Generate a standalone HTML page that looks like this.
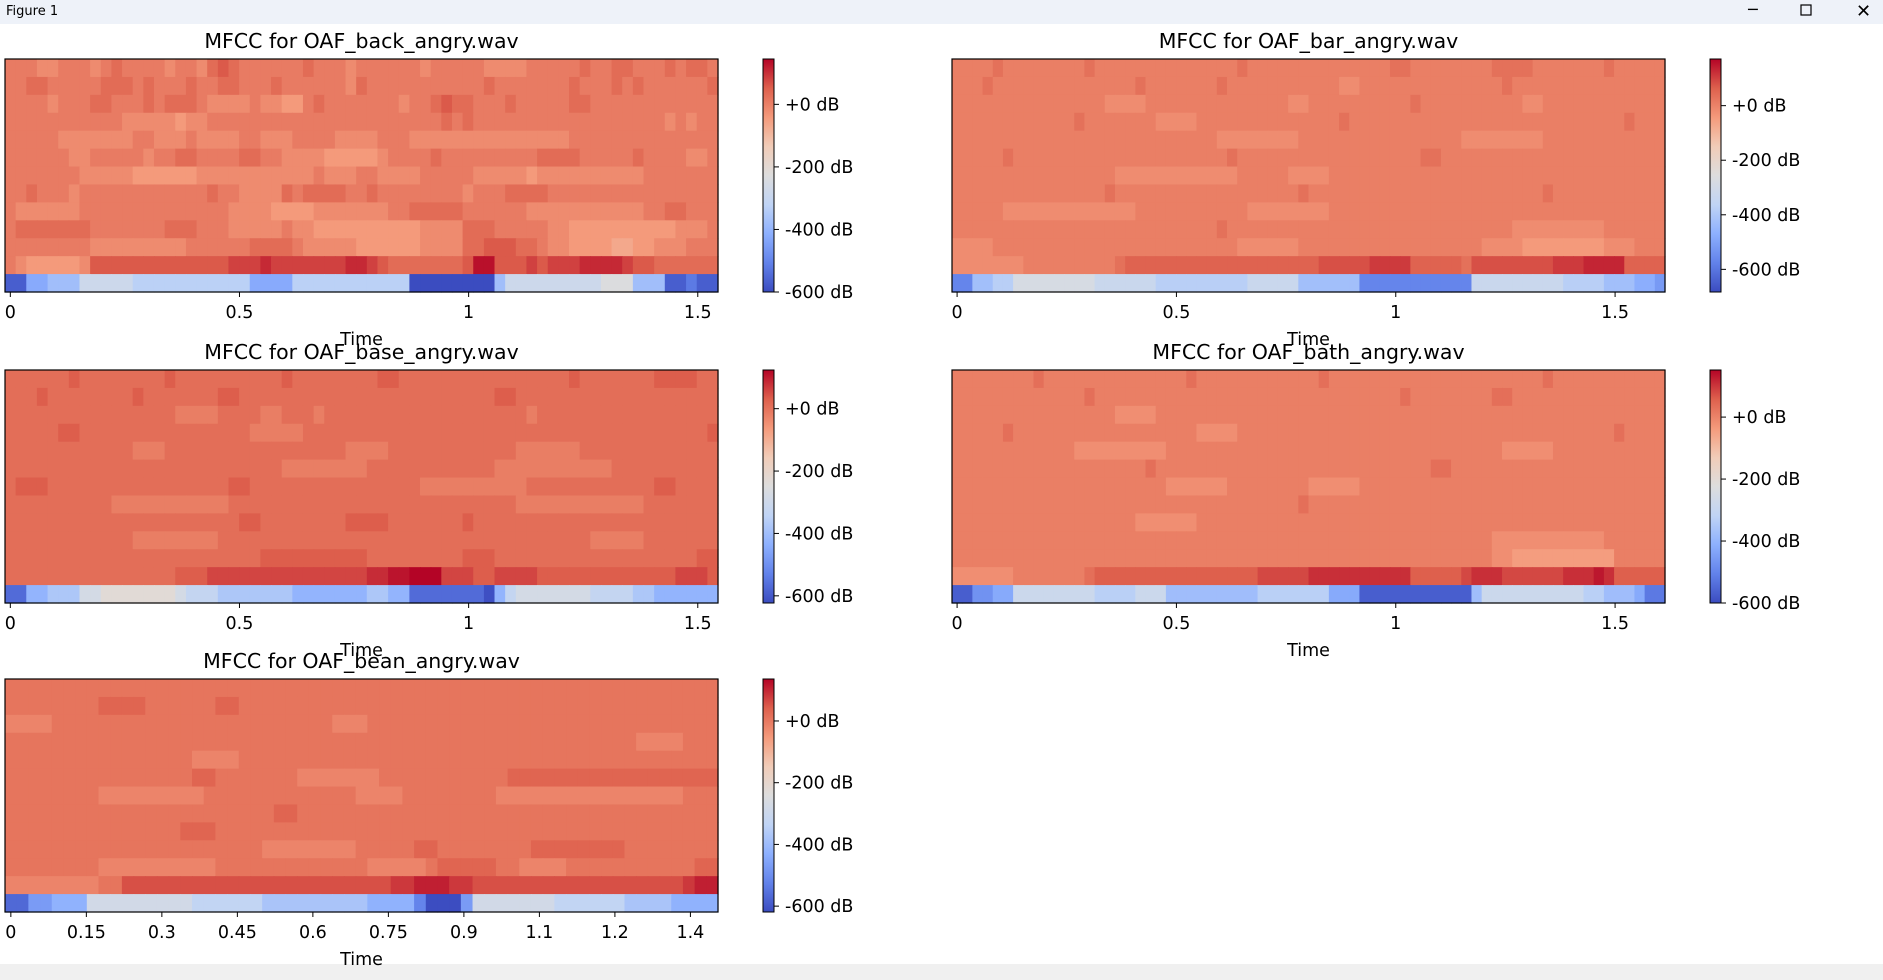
<!DOCTYPE html>
<html><head><meta charset="utf-8"><style>
html,body{margin:0;padding:0;background:#fff;width:1883px;height:980px;overflow:hidden;font-family:"DejaVu Sans","Liberation Sans",sans-serif}
</style></head><body>
<svg id="fig" width="1883" height="980" xmlns="http://www.w3.org/2000/svg">
<defs><linearGradient id="cw" x1="0" y1="1" x2="0" y2="0">
<stop offset="0" stop-color="rgb(59,76,192)"/><stop offset="0.125" stop-color="rgb(98,130,234)"/><stop offset="0.25" stop-color="rgb(141,176,254)"/><stop offset="0.375" stop-color="rgb(192,212,245)"/><stop offset="0.5" stop-color="rgb(221,221,221)"/><stop offset="0.625" stop-color="rgb(241,204,184)"/><stop offset="0.75" stop-color="rgb(244,154,123)"/><stop offset="0.875" stop-color="rgb(222,96,77)"/><stop offset="1" stop-color="rgb(180,4,38)"/>
</linearGradient></defs>
<rect x="0" y="0" width="1883" height="24" fill="#eef2f9"/>
<text x="6" y="15" font-size="13" fill="#000">Figure 1</text>
<text x="1748" y="15" font-size="16">─</text>
<rect x="1801" y="5" width="10" height="10" fill="none" stroke="#000" stroke-width="1.2"/>
<text x="1856" y="17" font-size="18">✕</text>
<rect x="0" y="964" width="1883" height="16" fill="#f0f0f0"/>
<g id="plots"></g>
</svg>
<script>
// ---- data (rows listed top coefficient first, bottom = coefficient 0); digits = levels ----
const backRows = [
"4443344434 5444434435 6544444454 4434444443 4444433334 4444544554 4454554",
"4455444445 5545444544 5544454444 4435444444 4444454444 4445444545 4444445",
"4444344455 4445455543 3334332245 4444444344 5655444544 4445544444 4444444",
"4444444444 4333332334 4444444444 4444444444 4545444444 4444444444 4434344",
"4444433333 3344333433 3344333444 4333344433 3333333333 3334444444 4444444",
"4444443344 4443445544 4455443333 2222234444 5444444444 5555444445 4444334",
"4444444333 3322222233 3333333334 3334433334 4444333332 3333333333 4444444",
"4454443444 4444444445 4433335455 5544544444 4443444555 5444444444 4444444",
"4333333444 4444444444 4333322223 3333334455 5554444443 3333333333 4455444",
"4555555544 4444455544 4333334332 2222222223 3335554444 4332222222 2223334",
"4444444433 3333333444 4445555433 3332222223 3335566655 4332222112 2333444",
"4322222366 6666666666 6777877777 7788765555 5556996667 6777888876 6555555",
"2255666888 8877777777 7775555777 7777777711 1111116888 8888889996 6622322"];
const barRows = [
"4444544444 4445444444 4444444454 4444444444 4445544444 4445555444 4444544444",
"4445444444 4444444454 4444445444 4444444433 4444444444 4444544444 4444444444",
"4444444444 4444433334 4444444444 4443344444 4444454444 4444443344 4444444444",
"4444444444 4454444444 3333444444 4444444454 4444444444 4444444444 4444445444",
"4444444444 4444444444 4444443333 3333444444 4444444444 3333333344 4444444444",
"4444454444 4444444444 4444444544 4444444444 4444445544 4444444444 4444444444",
"4444444444 4444443333 3333333344 4443333444 4444444444 4444444444 4444444444",
"4444444444 4444454444 4444444444 4444544444 4444444444 4444444454 4444444444",
"4444433333 3333333344 4444444443 3333333444 4444444444 4444444444 4444444444",
"4444444444 4444444444 4444445444 4444444444 4444444444 4444433333 3333444444",
"3333444444 4444444444 4444444433 3333444444 4444444444 4433332222 2222333444",
"3333333444 4444445666 6666666666 6666667777 7888866666 5777777778 8899996666",
"2255668888 8888777777 6666666667 7777555555 2222222222 2777777777 6666555443"];
const baseRows = [
"4444445444 4444454444 4444445444 4444455444 4444444444 4445444444 4555544",
"4445444444 4454444444 5544444444 4444444444 4444445544 4444444444 4444444",
"4444444444 4444443333 4444334443 4444444444 4444444443 4444444444 4444444",
"4444455444 4444444444 4443333344 4444444444 4444444444 4444444444 4444445",
"4444444444 4433344444 4444444444 4433334444 4444444433 3333444444 4444444",
"4444444444 4444444444 4444443333 3333444444 4444443333 3333333444 4444444",
"4555444444 4444444444 4554444444 4444444443 3333333334 4444444444 4554444",
"4444444444 3333333333 3444444444 4444444444 4444444433 3333333333 4444444",
"4444444444 4444444444 4455444444 4455554444 4445444444 4444444444 4444444",
"4444444444 4433333333 4444444444 4444444444 4444444444 4444433333 4444444",
"4444444444 4444444444 4444555555 5555444444 4445554444 4444444444 4444455",
"4444444444 4444445556 6666666666 6666778899 9666556666 5555555555 5556665",
"2255666889 9999998777 6666666555 5555665522 2222215788 8888877776 6555555"];
const bathRows = [
"4444444454 4444444444 4445444444 4444445444 4444444444 4444444454 4444444444",
"4444444444 4445444444 4444444444 4444444444 4444544444 4445544444 4444444444",
"4444444444 4444443333 4444444444 4444444444 4444444444 4444444444 4444444444",
"4444454444 4444444444 4444333344 4444444444 4444444444 4444444444 4444454444",
"4444444444 4433333333 3444444444 4444444444 4444444444 4444333334 4444444444",
"4444444444 4444444445 4444444444 4444444444 4444444554 4444444444 4444444444",
"4444444444 4444444444 4333333444 4444433333 4444444444 4444444444 4444444444",
"4444444444 4444444444 4444444444 4444544444 4444444444 4444444444 4444444444",
"4444444444 4444444433 3333444444 4444444444 4444444444 4444444444 4444444444",
"4444444444 4444444444 4444444444 4444444444 4444444444 4443333333 3333444444",
"4444444444 4444444444 4444444444 4444444444 4444444444 4443322222 2222244444",
"3333334444 4445666666 6666666666 7777788888 8888866666 7888777777 8889866666",
"2244558888 8888777788 8666666666 7777777555 2222222222 2688888888 8877666533"];
const beanRows = [
"4444444444 4444444444 4444444444 4444444444 4444444444 4444444444 4",
"4444444455 5544444455 4444444444 4444444444 4444444444 4444444444 4",
"3333444444 4444444444 4444444433 3444444444 4444444444 4444444444 4",
"4444444444 4444444444 4444444444 4444444444 4444444444 4444333344 4",
"4444444444 4444443333 4444444444 4444444444 4444444444 4444444444 4",
"4444444444 4444445544 4444433333 3344444444 4445555555 5555555555 5",
"4444444433 3333333444 4444444444 3333444444 4433333333 3333333344 4",
"4444444444 4444444444 4445544444 4444444444 4444444444 4444444444 4",
"4444444444 4444455544 4444444444 4444444444 4444444444 4444444444 4",
"4444444444 4444444444 4433333333 4444455444 4444455555 5554444444 4",
"4444444433 3333333344 4444444444 4333334555 5544333344 4444444445 5",
"3333333344 6666666666 6666666666 6667788877 6666666666 6666666678 8",
"2244555888 8888887777 7766666666 6555531114 8888888777 7776666555 5"];
const titles = ["MFCC for OAF_back_angry.wav","MFCC for OAF_bar_angry.wav","MFCC for OAF_base_angry.wav","MFCC for OAF_bath_angry.wav","MFCC for OAF_bean_angry.wav"];
const ticksStd = [0,0.5,1,1.5];
const tickLabelsStd = ["0","0.5","1","1.5"];
const ticksBean = [0,0.15,0.3,0.45,0.6,0.75,0.9,1.05,1.2,1.35];
const tickLabelsBean = ["0","0.15","0.3","0.45","0.6","0.75","0.9","1.1","1.2","1.4"];
const cbTicks = [0,-200,-400,-600];
const cbLabels = ["+0 dB","-200 dB","-400 dB","-600 dB"];
const vmins = [-600,-683,-623,-600,-619];
const vmaxs = [145,171,124,152,136];

const NS="http://www.w3.org/2000/svg";
const stops=[[0,59,76,192],[.125,98,130,234],[.25,141,176,254],[.375,192,212,245],[.5,221,221,221],[.625,241,204,184],[.75,244,154,123],[.875,222,96,77],[1,180,4,38]];
function cw(f){f=Math.max(0,Math.min(1,f));for(let i=1;i<stops.length;i++){if(f<=stops[i][0]){const a=stops[i-1],b=stops[i];const t=(f-a[0])/(b[0]-a[0]);return `rgb(${Math.round(a[1]+t*(b[1]-a[1]))},${Math.round(a[2]+t*(b[2]-a[2]))},${Math.round(a[3]+t*(b[3]-a[3]))})`;}}return "rgb(180,4,38)";}
function mk(tag,attrs,parent){const e=document.createElementNS(NS,tag);for(const k in attrs)e.setAttribute(k,attrs[k]);parent.appendChild(e);return e;}
const root=document.getElementById('plots');
const dt=512/22050;
const layouts=[{x:5,y:59,cb:763},{x:952,y:59,cb:1710},{x:5,y:370,cb:763},{x:952,y:370,cb:1710},{x:5,y:679,cb:763}];
const allRows=[backRows,barRows,baseRows,bathRows,beanRows];
const W=713,H=233;
allRows.forEach((rowsRaw,p)=>{
  const L=layouts[p];
  const rows=rowsRaw.map(s=>s.replace(/ /g,''));
  const N=rows[0].length, nr=rows.length;
  const vmin=vmins[p], vmax=vmaxs[p];
  const g=mk('g',{},root);
  
  
  const xs=t=>L.x+(t+dt/2)/(N*dt)*W;
  const ch=H/nr;
  rows.forEach((r,ri)=>{
    const coef=nr-1-ri;
    for(let i=0;i<N;i++){
      const d=+r[i];
      const db= coef===0 ? -665+d*48 : -92+d*25;
      const x0=xs((i-0.5)*dt), x1=xs((i+0.5)*dt);
      const c=mk('rect',{x:x0.toFixed(2),y:(L.y+ri*ch).toFixed(2),width:(x1-x0+0.6).toFixed(2),height:(ch+0.6).toFixed(2),fill:cw((db-vmin)/(vmax-vmin))},g);
      
      
    }
  });
  const fr=mk('rect',{x:L.x,y:L.y,width:W,height:H,fill:'none',stroke:'#000','stroke-width':1.2},g);
  
  
  const tt=mk('text',{x:L.x+W/2,y:L.y-11,'font-size':20.5,'text-anchor':'middle'},g);tt.textContent=titles[p];
  
  
  const tk=p===4?ticksBean:ticksStd, tl=p===4?tickLabelsBean:tickLabelsStd;
  tk.forEach((t,i)=>{
    const x=xs(t);
    mk('line',{x1:x,x2:x,y1:L.y+H,y2:L.y+H+5,stroke:'#000','stroke-width':1},g);
    const lb=mk('text',{x:x,y:L.y+H+26,'font-size':17.5,'text-anchor':'middle'},g);lb.textContent=tl[i];
    
    
  });
  const xl=mk('text',{x:L.x+W/2,y:L.y+H+53,'font-size':17.5,'text-anchor':'middle'},g);xl.textContent='Time';
  
  
  const cb=mk('rect',{x:L.cb,y:L.y,width:11,height:H,fill:'url(#cw)',stroke:'#000','stroke-width':1},g);
  
  
  cbTicks.forEach((v,i)=>{
    const y=L.y+H-(v-vmin)/(vmax-vmin)*H;
    mk('line',{x1:L.cb+11,x2:L.cb+16,y1:y,y2:y,stroke:'#000','stroke-width':1},g);
    const lb=mk('text',{x:L.cb+22,y:y+6,'font-size':17.5},g);lb.textContent=cbLabels[i];
    
    
  });
});
</script>
</body></html>
